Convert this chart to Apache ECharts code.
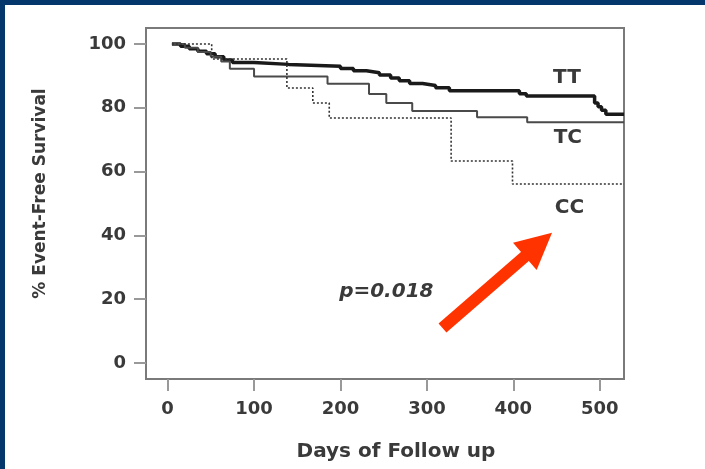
<!DOCTYPE html>
<html>
<head>
<meta charset="utf-8">
<script src="https://cdn.jsdelivr.net/npm/echarts@6/dist/echarts.min.js"></script>
<style>
  html, body { margin: 0; padding: 0; width: 705px; height: 469px; overflow: hidden; background: #04376b; }
  #chart { position: absolute; left: 5px; top: 5px; width: 700px; height: 464px; background: #fff; }
</style>
</head>
<body>
<div id="chart"></div>
<script>
// Kaplan-Meier event-free survival by genotype
const xTicks = [0, 100, 200, 300, 400, 500];
const yTicks = [0, 20, 40, 60, 80, 100];

const ttDays = [5, 15, 25, 35, 45, 55, 65, 75, 100, 140, 200, 215, 230, 245, 258, 268, 280, 295, 310, 326, 407, 415, 494, 498, 502, 507, 528];
const ttSurv = [100, 99.3, 98.5, 97.7, 96.9, 96, 95, 94.2, 93.6, 93, 92.3, 91.6, 91, 90.3, 89.3, 88.5, 87.6, 87, 86.3, 85.3, 84.4, 83.7, 81.5, 80.3, 79.2, 78, 78];

const tcDays = [5, 20, 35, 50, 62, 72, 100, 185, 233, 253, 283, 358, 416, 528];
const tcSurv = [100, 98.8, 97.5, 96, 94.5, 92.2, 89.8, 87.5, 84.3, 81.5, 79, 77, 75.5, 75.5];

const ccDays = [5, 51, 138, 168, 187, 328, 399, 528];
const ccSurv = [100, 95.3, 86.2, 81.5, 76.8, 63.3, 56.1, 56.1];

// annotation anchors in data units
const ttLabelAt = [462, 89.3];
const tcLabelAt = [463, 70.5];
const ccLabelAt = [465, 48.5];
const pLabelAt = [253, 22.3];
const arrowFrom = [318, 11];
const arrowTo = [429, 37.1];

const TEXT = '#3a3a3a';
const AXIS = '#7a7a7a';
const FONT = '"DejaVu Sans", sans-serif';

function pairs(days, surv) {
  return days.map((d, i) => [d, surv[i]]);
}

function tag(text, coord) {
  return {
    symbol: 'circle', symbolSize: 1, silent: true,
    itemStyle: { color: 'transparent' },
    label: {
      show: true, position: 'inside', formatter: text,
      color: TEXT, fontFamily: FONT, fontSize: 20, fontWeight: 'bold',
    },
    data: [{ coord }],
  };
}

const chart = echarts.init(document.getElementById('chart'), null, { renderer: 'canvas' });

chart.setOption({
  animation: false,
  backgroundColor: '#fff',
  grid: { left: 141, right: 81, top: 23, bottom: 90, show: true, borderColor: AXIS, borderWidth: 2 },
  xAxis: {
    type: 'value', min: -25, max: 528,
    name: 'Days of Follow up', nameLocation: 'middle', nameGap: 63,
    nameTextStyle: { color: TEXT, fontFamily: FONT, fontSize: 20, fontWeight: 'bold', padding: [0, 0, 0, 22] },
    axisLine: { show: true, onZero: false, lineStyle: { color: AXIS, width: 2 } },
    axisTick: { show: true, customValues: xTicks, length: 12, lineStyle: { color: '#999', width: 2 } },
    axisLabel: { customValues: xTicks, margin: 21, color: TEXT, fontFamily: FONT, fontSize: 18, fontWeight: 'bold' },
    splitLine: { show: false },
  },
  yAxis: {
    type: 'value', min: -5, max: 105,
    name: '% Event-Free Survival', nameLocation: 'middle', nameGap: 97, nameRotate: 90,
    nameTextStyle: { color: TEXT, fontFamily: FONT, fontSize: 17, fontWeight: 'bold', padding: [0, 0, 0, 20] },
    axisLine: { show: true, onZero: false, lineStyle: { color: AXIS, width: 2 } },
    axisTick: { show: true, customValues: yTicks, length: 12, lineStyle: { color: '#999', width: 2 } },
    axisLabel: { customValues: yTicks, margin: 20, color: TEXT, fontFamily: FONT, fontSize: 18, fontWeight: 'bold' },
    splitLine: { show: false },
  },
  series: [
    {
      name: 'TT', type: 'line', step: 'end', showSymbol: false,
      lineStyle: { color: '#1a1a1a', width: 3.5 },
      data: pairs(ttDays, ttSurv),
      markPoint: tag('TT', ttLabelAt),
    },
    {
      name: 'TC', type: 'line', step: 'end', showSymbol: false,
      lineStyle: { color: '#4a4a4a', width: 2 },
      data: pairs(tcDays, tcSurv),
      markPoint: tag('TC', tcLabelAt),
    },
    {
      name: 'CC', type: 'line', step: 'end', showSymbol: false,
      lineStyle: { color: '#333', width: 1.6, type: [2, 2] },
      data: pairs(ccDays, ccSurv),
      markPoint: {
        ...tag('CC', ccLabelAt),
        data: [
          { coord: ccLabelAt },
          { coord: pLabelAt, label: { formatter: 'p=0.018', fontStyle: 'italic' } },
        ],
      },
      markLine: {
        silent: true, symbol: ['none', 'triangle'], symbolSize: [36, 36],
        label: { show: false },
        lineStyle: { color: '#ff3300', width: 12, type: 'solid' },
        itemStyle: { color: '#ff3300' },
        data: [[{ coord: arrowFrom }, { coord: arrowTo }]],
      },
    },
  ],
});
</script>
</body>
</html>
